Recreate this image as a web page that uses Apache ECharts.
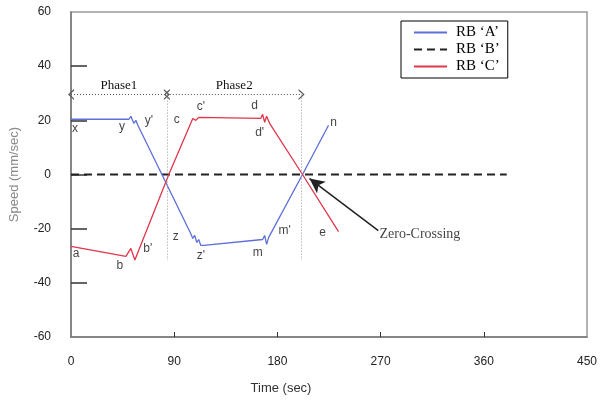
<!DOCTYPE html>
<html>
<head>
<meta charset="utf-8">
<script src="https://cdn.jsdelivr.net/npm/echarts@6/dist/echarts.min.js"></script>
<style>
  html, body { margin: 0; padding: 0; background: #fff; }
  #chart { width: 602px; height: 400px; }
</style>
</head>
<body>
<div id="chart"></div>
<script>
// RB 'A' (blue)
var rbATime  = [0, 50.5, 52.2, 54.8, 56.6, 58.3, 104.4, 106.2, 107.9, 109.7, 111.4, 113.2, 115.8, 167.1, 168.9, 170.6, 172.3, 201.9, 224.6]
var rbASpeed = [20.4, 20.4, 21.5, 18.9, 20.0, 18.2, -21.8, -23.6, -22.5, -25.1, -24.0, -26.2, -26.2, -24.0, -22.5, -25.8, -23.3, 0, 18.2]
// RB 'B' (dashed)
var rbBTime  = [0, 380]
var rbBSpeed = [0, 0]
// RB 'C' (red)
var rbCTime  = [0, 47.9, 52.2, 55.7, 85.3, 106.2, 108.8, 111.4, 165.4, 167.1, 168.9, 170.6, 173.2, 201.9, 233.3]
var rbCSpeed = [-26.5, -30.2, -27.3, -31.6, 0, 20.7, 20.0, 21.1, 20.7, 22.2, 19.3, 21.5, 18.9, 0, -21.1]

// point tags on the curves
var tagNames  = ['x', 'y', "y'", 'c', "c'", 'd', "d'", 'n', 'z', "z'", 'm', "m'", 'e', 'a', 'b', "b'"]
var tagTimes  = [3.5, 44.4, 67.9, 92.3, 113.2, 160.2, 164.5, 228.9, 91.4, 113.2, 162.8, 186.3, 219.3, 4.4, 42.6, 67.0]
var tagSpeeds = [17.1, 17.8, 20.0, 20.4, 25.1, 25.5, 15.6, 19.3, -22.9, -29.8, -28.7, -20.7, -21.5, -29.1, -33.8, -27.3]

// phase boundaries (sec) and the level of the phase arrows
var phaseBounds = [0, 83.6, 201.1]
var phaseNames = ['Phase1', 'Phase2']
var phaseLevel = 29.5
var phaseDrop = -31.6

// zero-crossing callout
var calloutFrom = [268, -20.7]
var calloutTo = [208, -1.5]
var calloutText = [269, -22.2]

var xTicks = [90, 180, 270, 360]
var yTicks = [-40, -20, 0, 20, 40]

function pairs (ts, vs) {
  var out = []
  for (var i = 0; i < ts.length; i++) out.push([ts[i], vs[i]])
  return out
}

var chevron = 'path://M0,10 L5,0 L10,10 L8.6,10 L5,2.8 L1.4,10 Z'
var serif = 'Liberation Serif'
var sans = 'Liberation Sans'

var phaseLines = []
for (var i = 0; i < phaseNames.length; i++) {
  phaseLines.push([
    { coord: [phaseBounds[i], phaseLevel], symbol: chevron, symbolSize: [11, 6] },
    {
      coord: [phaseBounds[i + 1], phaseLevel],
      symbol: chevron,
      symbolSize: [11, 6],
      label: {
        show: true,
        position: 'middle',
        formatter: phaseNames[i],
        distance: 3,
        fontFamily: serif,
        fontSize: 13,
        color: '#111'
      }
    }
  ])
}
var dropLines = []
for (var j = 1; j < phaseBounds.length; j++) {
  dropLines.push([
    { coord: [phaseBounds[j], phaseLevel] },
    { coord: [phaseBounds[j], phaseDrop] }
  ])
}

var tagData = []
for (var k = 0; k < tagNames.length; k++) {
  tagData.push([tagTimes[k], tagSpeeds[k], tagNames[k]])
}

var myChart = echarts.init(document.getElementById('chart'))
myChart.setOption({
  animation: false,
  backgroundColor: '#fff',
  grid: {
    left: 70,
    right: 15,
    top: 12,
    bottom: 62,
    show: true,
    borderColor: '#999',
    borderWidth: 1.5
  },
  legend: {
    orient: 'vertical',
    left: 401,
    top: 21,
    width: 117,
    padding: [4, 8, 4, 12],
    itemGap: 2,
    itemWidth: 33,
    itemHeight: 14,
    borderColor: '#000',
    borderWidth: 1,
    itemStyle: { opacity: 0 },
    data: ['RB ‘A’', 'RB ‘B’', 'RB ‘C’'],
    textStyle: { fontFamily: serif, fontSize: 15, color: '#000', padding: [0, 0, 0, 4] }
  },
  xAxis: {
    type: 'value',
    min: 0,
    max: 450,
    interval: 90,
    name: 'Time (sec)',
    nameLocation: 'middle',
    nameGap: 45,
    nameTextStyle: { fontFamily: sans, fontSize: 13, color: '#333', padding: [0, 96, 0, 0] },
    axisLine: { show: true, onZero: false, lineStyle: { color: '#777', width: 1.5 } },
    axisTick: { show: true, inside: true, length: 5, customValues: xTicks, lineStyle: { color: '#333' } },
    axisLabel: { margin: 19, fontFamily: sans, fontSize: 12, color: '#222' },
    splitLine: { show: false }
  },
  yAxis: {
    type: 'value',
    min: -60,
    max: 60,
    interval: 20,
    name: 'Speed (mm/sec)',
    nameLocation: 'middle',
    nameGap: 50,
    nameRotate: 90,
    nameTextStyle: { fontFamily: sans, fontSize: 13, color: '#888' },
    axisLine: { show: true, onZero: false, lineStyle: { color: '#777', width: 1.5 } },
    axisTick: { show: true, inside: true, length: 16, customValues: yTicks, lineStyle: { color: '#333', width: 1.5 } },
    axisLabel: { margin: 20, fontFamily: sans, fontSize: 12, color: '#222' },
    splitLine: { show: false }
  },
  series: [
    {
      name: 'RB ‘A’',
      type: 'line',
      data: pairs(rbATime, rbASpeed),
      symbol: 'none',
      lineStyle: { color: '#5d6fd8', width: 1.3 },
      itemStyle: { color: '#5d6fd8' },
      z: 3
    },
    {
      name: 'RB ‘B’',
      type: 'line',
      data: pairs(rbBTime, rbBSpeed),
      symbol: 'none',
      lineStyle: { color: '#222', width: 2, type: [8, 5] },
      itemStyle: { color: '#222' },
      z: 2
    },
    {
      name: 'RB ‘C’',
      type: 'line',
      data: pairs(rbCTime, rbCSpeed),
      symbol: 'none',
      lineStyle: { color: '#e0364a', width: 1.3 },
      itemStyle: { color: '#e0364a' },
      z: 3
    },
    {
      name: 'phases',
      type: 'line',
      data: [],
      markLine: {
        silent: true,
        symbol: 'none',
        lineStyle: { color: '#555', type: [1, 2], width: 1 },
        label: { show: false },
        data: phaseLines
      }
    },
    {
      name: 'drops',
      type: 'line',
      data: [],
      markLine: {
        silent: true,
        symbol: 'none',
        lineStyle: { color: '#999', type: [1, 2], width: 1 },
        label: { show: false },
        data: dropLines
      }
    },
    {
      name: 'callout',
      type: 'scatter',
      data: [[calloutText[0], calloutText[1], 'Zero-Crossing']],
      symbolSize: 0,
      label: {
        show: true,
        position: 'right',
        distance: 0,
        formatter: function (p) { return p.value[2] },
        fontFamily: serif,
        fontSize: 14,
        color: '#111'
      },
      markLine: {
        silent: true,
        symbol: ['none', 'arrow'],
        symbolSize: [11, 15],
        lineStyle: { color: '#222', type: 'solid', width: 1.5 },
        itemStyle: { color: '#111' },
        label: { show: false },
        data: [[{ coord: calloutFrom }, { coord: calloutTo }]]
      }
    },
    {
      name: 'tags',
      type: 'scatter',
      data: tagData,
      symbolSize: 0,
      label: {
        show: true,
        position: 'inside',
        formatter: function (p) { return p.value[2] },
        fontFamily: sans,
        fontSize: 12,
        color: '#111'
      }
    }
  ]
})
</script>
</body>
</html>
